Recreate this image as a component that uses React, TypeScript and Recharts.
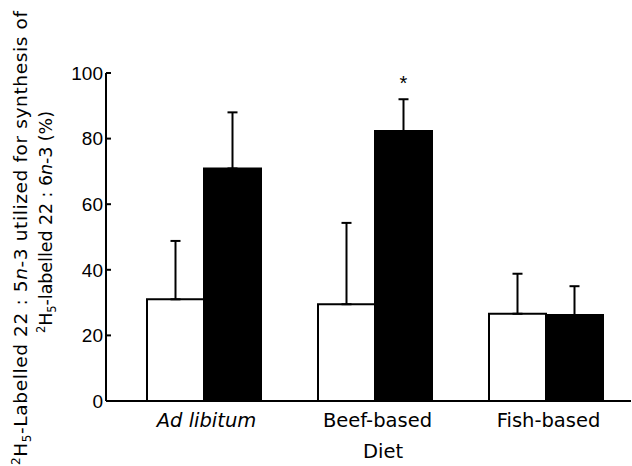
import { BarChart, Bar, XAxis, YAxis, ErrorBar, LabelList } from 'recharts'

const diets = ['Ad libitum', 'Beef-based', 'Fish-based']
const openMeans = [31, 29.5, 26.6]
const openSE = [17.8, 24.8, 12.2]
const solidMeans = [70.9, 82.3, 26.2]
const solidSE = [17.1, 9.7, 8.8]
const solidMarks = ['', '*', '']
const yTicks = [0, 20, 40, 60, 80, 100]

const data = diets.map((diet, i) => ({
  diet,
  open: openMeans[i],
  openErr: [0, openSE[i]],
  solid: solidMeans[i],
  solidErr: [0, solidSE[i]],
  mark: solidMarks[i],
}))

const NUM_FONT = '"Liberation Sans", Arial, Helvetica, sans-serif'
const TEXT_FONT = '"DejaVu Sans", Verdana, sans-serif'

function YTick({ x, y, payload }: any) {
  // ticks point into the plot
  return (
    <g>
      <line x1={x + 3} x2={x + 8} y1={y} y2={y} stroke="#000" strokeWidth={2} />
      <text x={x} y={y} dy="0.36em" textAnchor="end" fontFamily={NUM_FONT} fontSize={19} fill="#000">
        {payload.value}
      </text>
    </g>
  )
}

function XTick({ x, y, payload }: any) {
  return (
    <text
      x={x + 3}
      y={y}
      dy="0.71em"
      textAnchor="middle"
      fontFamily={TEXT_FONT}
      fontSize={19.5}
      fontStyle={payload.value === 'Ad libitum' ? 'italic' : 'normal'}
      fill="#000"
    >
      {payload.value}
    </text>
  )
}

function YTitle() {
  return (
    <g fontFamily={TEXT_FONT} fill="#000">
      <text transform="translate(27,238) rotate(-90)" textAnchor="middle" fontSize={18.5} textLength={454} lengthAdjust="spacing">
        <tspan fontSize={12} dy={-7}>2</tspan>
        <tspan dy={7}>H</tspan>
        <tspan fontSize={12} dy={4}>5</tspan>
        <tspan dy={-4}>-Labelled 22 : 5</tspan>
        <tspan fontStyle="italic">n</tspan>
        <tspan>-3 utilized for synthesis of</tspan>
      </text>
      <text transform="translate(52,222) rotate(-90)" textAnchor="middle" fontSize={17.5} textLength={222} lengthAdjust="spacing">
        <tspan fontSize={11.5} dy={-7}>2</tspan>
        <tspan dy={7}>H</tspan>
        <tspan fontSize={11.5} dy={4}>5</tspan>
        <tspan dy={-4}>-labelled 22 : 6</tspan>
        <tspan fontStyle="italic">n</tspan>
        <tspan>-3 (%)</tspan>
      </text>
    </g>
  )
}

function DietLabel() {
  return (
    <text x={383} y={458} textAnchor="middle" fontFamily={TEXT_FONT} fontSize={19.5} fill="#000">
      Diet
    </text>
  )
}

function StarLabel(p: any) {
  const { x, y, width, height, value } = p
  if (!value) return null
  const i = p.index ?? solidMarks.indexOf(value)
  const errTop = y - (solidSE[i] * height) / solidMeans[i]
  return (
    <text x={x + width / 2} y={errTop - 9} textAnchor="middle" fontFamily={NUM_FONT} fontSize={20} fill="#000">
      {value}
    </text>
  )
}

export default function App() {
  return (
    <div style={{ width: 632, height: 466, background: '#fff' }}>
      <style>{`body { margin: 0; }`}</style>
      <BarChart
        width={632}
        height={466}
        data={data}
        margin={{ top: 73, right: 1, bottom: 0, left: 0 }}
        barGap={0}
      >
        <XAxis
          dataKey="diet"
          height={65}
          padding={{ left: 12, right: 0 }}
          axisLine={{ stroke: '#000', strokeWidth: 2 }}
          tickLine={false}
          tickSize={0}
          tickMargin={12}
          tick={<XTick />}
          label={{ content: () => <DietLabel /> }}
        />
        <YAxis
          width={106}
          domain={[0, 100]}
          ticks={yTicks}
          interval={0}
          axisLine={{ stroke: '#000', strokeWidth: 2 }}
          tickLine={false}
          tickSize={0}
          tickMargin={3}
          tick={<YTick />}
          label={{ content: () => <YTitle /> }}
        />
        <Bar dataKey="open" fill="#fff" stroke="#000" strokeWidth={2} barSize={57} isAnimationActive={false}>
          <ErrorBar dataKey="openErr" direction="y" width={5} stroke="#000" strokeWidth={2} isAnimationActive={false} />
        </Bar>
        <Bar dataKey="solid" fill="#000" stroke="#000" strokeWidth={2} barSize={57} isAnimationActive={false}>
          <ErrorBar dataKey="solidErr" direction="y" width={5} stroke="#000" strokeWidth={2} isAnimationActive={false} />
          <LabelList dataKey="mark" content={<StarLabel />} />
        </Bar>
      </BarChart>
    </div>
  )
}
